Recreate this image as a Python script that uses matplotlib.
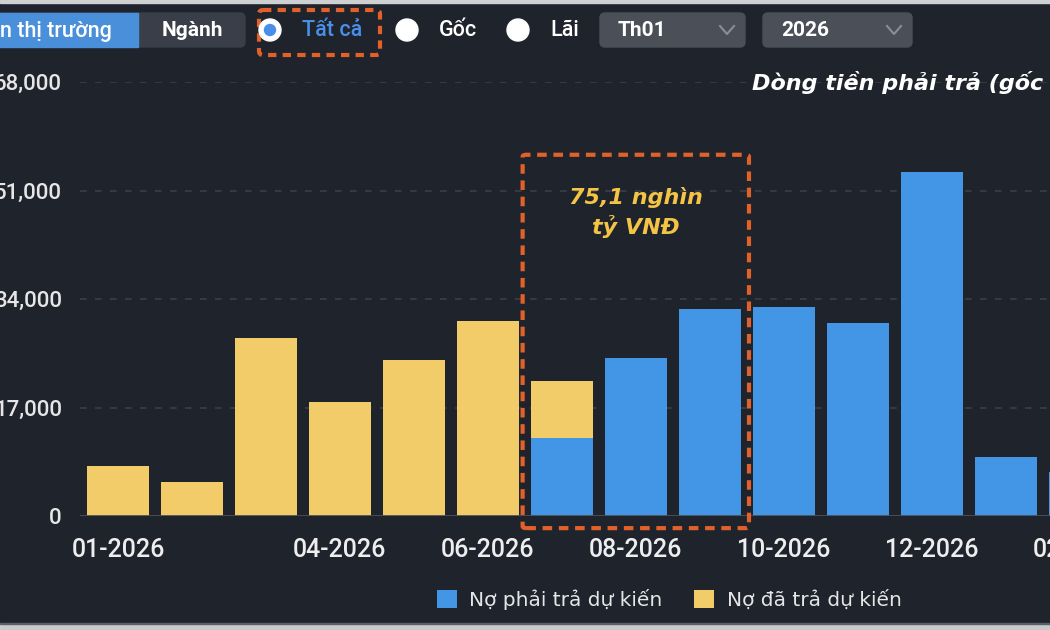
import matplotlib
matplotlib.use('Agg')
import matplotlib.pyplot as plt
from matplotlib.patches import Rectangle, FancyBboxPatch, Circle
from matplotlib.lines import Line2D
import numpy as np

plt.rcParams['font.family'] = ['Roboto', 'DejaVu Sans']

# du lieu doc tu hinh
thang = ['01-2026', '02-2026', '03-2026', '04-2026', '05-2026', '06-2026', '07-2026',
         '08-2026', '09-2026', '10-2026', '11-2026', '12-2026', '01-2027', '02-2027']
no_phai_tra = [0, 0, 0, 0, 0, 0, 12200, 24800, 32400, 32800, 30200, 53900, 9300, 6900]
no_da_tra = [7800, 5300, 27900, 17900, 24500, 30600, 9000, 0, 0, 0, 0, 0, 0, 0]
nhan_truc_x = ['01-2026', '04-2026', '06-2026', '08-2026', '10-2026', '12-2026', '02-2027']
moc_y = [0, 17000, 34000, 51000, 68000]
thang_khoanh = ['07-2026', '08-2026', '09-2026']
ghi_chu = '75,1 nghìn\ntỷ VNĐ'
tieu_de = 'Dòng tiền phải trả (gốc & lãi)'
ten_series = ['Nợ phải trả dự kiến', 'Nợ đã trả dự kiến']

NEN = '#1f232c'
XANH = '#4396e5'
VANG = '#f3cc6a'
CAM = '#e2612a'
DV = ['DejaVu Sans']

W, H = 1050, 630
fig = plt.figure(figsize=(W / 100, H / 100), dpi=100, facecolor=NEN)

# truc chinh (keo dai qua mep phai nhu anh chup bi cat)
px0, px1 = 80, 1124
py_top, py_bot = 82, 516
ax = fig.add_axes([px0 / W, 1 - py_bot / H, (px1 - px0) / W, (py_bot - py_top) / H])
ax.set_facecolor(NEN)

x = np.arange(len(thang))
ax.bar(x, no_phai_tra, width=0.84, color=XANH, label=ten_series[0], zorder=3)
ax.bar(x, no_da_tra, width=0.84, bottom=no_phai_tra, color=VANG, label=ten_series[1], zorder=3)

ax.set_xlim(-0.514, 13.6)
ax.set_ylim(0, 68000)
ax.set_yticks(moc_y)
ax.set_yticklabels([f'{v:,}' for v in moc_y])
ax.set_xticks([thang.index(t) for t in nhan_truc_x])
ax.set_xticklabels(nhan_truc_x)
ax.tick_params(axis='y', length=0, pad=13, labelsize=16, labelcolor='#e6e6e6')
ax.tick_params(axis='x', length=0, pad=16, labelsize=18, labelcolor='#eeeeee')
for lab in ax.get_xticklabels() + ax.get_yticklabels():
    lab.set_fontweight('medium')
for s in ax.spines.values():
    s.set_visible(False)
ax.grid(axis='y', color='#393e48', linestyle=(0, (4, 5)), linewidth=1.2, zorder=0)
ax.axhline(0, color='#4b4f58', linewidth=2, zorder=4)

# khung danh dau cac thang
i0 = thang.index(thang_khoanh[0])
i1 = thang.index(thang_khoanh[-1])
khung = FancyBboxPatch((i0 - 0.53, -1900), (i1 - i0) + 1.06, 58500,
                       boxstyle='round,pad=0,rounding_size=0.05', mutation_aspect=6000,
                       fill=False, edgecolor=CAM, linewidth=3, linestyle=(0, (2.3, 1.6)),
                       clip_on=False, zorder=5)
ax.add_patch(khung)
ax.text((i0 + i1) / 2, 47600, ghi_chu, ha='center', va='center', color='#f5c444',
        fontsize=16, fontweight='bold', fontstyle='italic', linespacing=1.35,
        family=DV, zorder=6)

fig.text(752 / W, 1 - 82 / H, tieu_de, ha='left', va='center', color='white',
         fontsize=16, fontweight='bold', fontstyle='italic', family=DV)

ax.legend(loc='center', bbox_to_anchor=(669 / W, 1 - 599 / H), bbox_transform=fig.transFigure,
          ncol=2, frameon=False, prop={'family': DV, 'size': 14.5}, labelcolor='#e6e6e6',
          handlelength=1.0, handleheight=1.0, handletextpad=0.6, columnspacing=1.6)

# lop pixel cho thanh cong cu phia tren
ui = fig.add_axes([0, 0, 1, 1], zorder=10)
ui.set_xlim(0, W)
ui.set_ylim(H, 0)
ui.axis('off')
ui.patch.set_alpha(0)

ui.add_patch(Rectangle((0, 0), W, 2.5, color='#cfd0d2'))
ui.add_patch(Rectangle((0, 624), W, 6, color='#c9cacc'))
ui.add_patch(Rectangle((0, 622.5), W, 1.5, color='#5a5e66'))

ui.add_patch(FancyBboxPatch((-10, 13), 255, 34, boxstyle='round,pad=0,rounding_size=5',
                            color='#3a3e48'))
ui.add_patch(Rectangle((-10, 13), 148, 34, color='#4a8fd9'))
ui.text(0, 31, 'n thị trường', ha='left', va='center', color='white', fontsize=15.5,
        fontweight='medium')
ui.text(192, 31, 'Ngành', ha='center', va='center', color='white', fontsize=15,
        fontweight='bold')

ui.add_patch(FancyBboxPatch((259, 10), 121, 45, boxstyle='round,pad=0,rounding_size=4',
                            fill=False, edgecolor=CAM, linewidth=3, linestyle=(0, (2.0, 1.5))))

radio = [('Tất cả', 270, '#4a8fe7', True), ('Gốc', 407, 'white', False), ('Lãi', 518, 'white', False)]
for ten, cx, mau, chon in radio:
    ui.add_patch(Circle((cx, 30), 11, color='white'))
    if chon:
        ui.add_patch(Circle((cx, 30), 5.5, color='#4a8fe7'))
    ui.text(cx + 32, 31, ten, ha='left', va='center', color=mau, fontsize=15.5,
            fontweight='medium')

for x0, x1, nhan in [(600, 745, 'Th01'), (763, 912, '2026')]:
    ui.add_patch(FancyBboxPatch((x0, 13), x1 - x0, 34, boxstyle='round,pad=0,rounding_size=5',
                                color='#4b4f58'))
    ui.text(x0 + 18, 31, nhan, ha='left', va='center', color='white', fontsize=15,
            fontweight='bold')
    cx = x1 - 18
    ui.add_line(Line2D([cx - 7, cx, cx + 7], [26, 34, 26], color='#8a8e96', linewidth=1.5))

fig.savefig('out.png', dpi=100, facecolor=NEN)
